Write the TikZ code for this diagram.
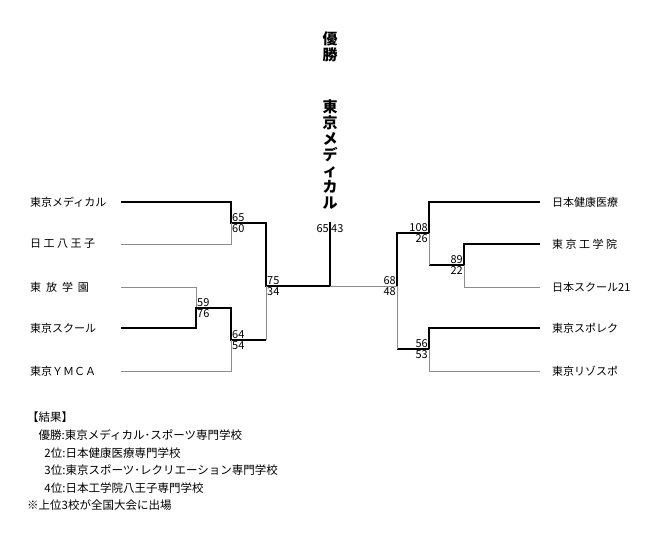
\documentclass[tikz,border=0pt]{standalone}
\usepackage{fontspec}
\setmainfont{Noto Sans CJK JP}
\usetikzlibrary{positioning}
\tikzset{
  win/.style={line width=1.6pt,black},
  lose/.style={line width=0.5pt,black!45},
  team/.style={font=\fontsize{11}{13}\selectfont,inner sep=0pt},
  score/.style={font=\fontsize{11}{13}\selectfont,inner sep=1pt},
}
\begin{document}
\begin{tikzpicture}[x=1pt,y=-1pt]
\useasboundingbox (0,0) rectangle (660,539);
% title
\node[font=\bfseries\fontsize{15}{16}\selectfont,align=center] (champ) at (330,47) {優\\勝};
\node[font=\bfseries\fontsize{15}{16}\selectfont,align=center] (winner) at (330,155) {東\\京\\メ\\デ\\ィ\\カ\\ル};
% left teams
\foreach \n/\y/\t in {a/202/東京メディカル,b/244/日\ 工\ 八\ 王\ 子,c/287/東\ \ 放\ \ 学\ \ 園,d/328/東京スクール,e/371/東京ＹＭＣＡ}{
  \node[team,anchor=west] (\n) at (30,\y) {\t};
  \coordinate (\n0) at (121,\y);
}
% right teams
\foreach \n/\y/\t in {f/202/日本健康医療,g/244/東\ 京\ 工\ 学\ 院,h/287/日本スクール21,i/328/東京スポレク,j/371/東京リゾスポ}{
  \node[team,anchor=west] (\n) at (552,\y) {\t};
  \coordinate (\n0) at (540,\y);
}
\coordinate (ab) at (231,223);
\coordinate (cd) at (196,308);
\coordinate (cde) at (231,340);
\coordinate (L) at (266,286);
\coordinate (F) at (330,286);
\coordinate (top) at (330,222);
\coordinate (gh) at (464,265);
\coordinate (fgh) at (429,233);
\coordinate (ij) at (429,349);
\coordinate (R) at (397,286);
% left side
\draw[win] (a0) -| (ab) -- (ab -| L) |- (F) -- (top);
\draw[lose] (b0) -| (ab);
\draw[lose] (c0) -| (cd);
\draw[win] (d0) -| (cd) -| (cde) -- (cde -| L);
\draw[lose] (e0) -| (cde);
\draw[lose] (cde -| L) -- (L);
% right side
\draw[lose] (F) -- (R);
\draw[win] (f0) -| (fgh) -- (fgh -| R) -- (R);
\draw[win] (g0) -| (gh) -- (gh -| fgh);
\draw[lose] (h0) -| (gh);
\draw[lose] (gh -| fgh) -- (fgh);
\draw[win] (i0) -| (ij) -- (ij -| R);
\draw[lose] (j0) -| (ij);
\draw[lose] (ij -| R) -- (R);
% scores
\foreach \p/\u/\l in {ab/65/60,cd/59/76,cde/64/54,L/75/34}{
  \node[score,anchor=south west] at (\p) {\u};
  \node[score,anchor=north west] at (\p) {\l};
}
\foreach \p/\u/\l in {fgh/108/26,gh/89/22,R/68/48,ij/56/53}{
  \node[score,anchor=south east] at (\p) {\u};
  \node[score,anchor=north east] at (\p) {\l};
}
\node[score,anchor=north east] at ([yshift=-1]top) {65};
\node[score,anchor=north west] at ([yshift=-1]top) {43};
% result
\node[anchor=north west,align=left,inner sep=0pt,font=\fontsize{11.5}{17.6}\selectfont] (result) at (27,412) {%
【結果】\\
\hspace{1em}優勝:東京メディカル･スポーツ専門学校\\
\hspace{1.5em}2位:日本健康医療専門学校\\
\hspace{1.5em}3位:東京スポーツ･レクリエーション専門学校\\
\hspace{1.5em}4位:日本工学院八王子専門学校\\
※上位3校が全国大会に出場};
\end{tikzpicture}
\end{document}
